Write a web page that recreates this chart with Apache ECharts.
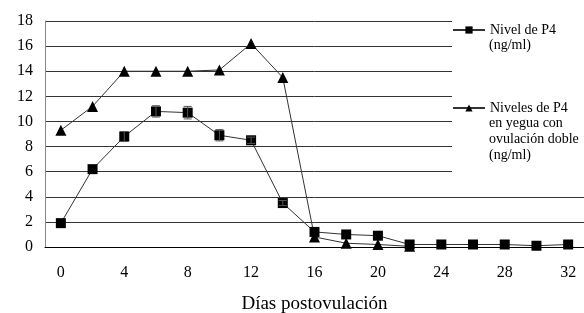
<!DOCTYPE html>
<html><head><meta charset="utf-8">
<script src="https://cdn.jsdelivr.net/npm/echarts@6/dist/echarts.min.js"></script>
<style>html,body{margin:0;padding:0;background:#fff}#c{width:584px;height:313px}</style>
</head><body><div id="c"></div><script>
const days = ['0','2','4','6','8','10','12','14','16','18','20','22','24','26','28','30','32'];
const p4 = [1.9, 6.2, 8.8, 10.8, 10.7, 8.9, 8.5, 3.5, 1.2, 1.0, 0.9, 0.2, 0.2, 0.2, 0.2, 0.1, 0.2];
const p4Err = [0, 0, 0.4, 0.45, 0.5, 0.45, 0.25, 0.2, 0, 0, 0, 0, 0, 0, 0, 0, 0];
const p4Double = [9.3, 11.2, 14.0, 14.0, 14.0, 14.1, 16.2, 13.5, 0.8, 0.3, 0.2, 0.05];
const name1 = 'Nivel de P4';
const name1Extra = ['(ng/ml)'];
const name2 = 'Niveles de P4';
const name2Extra = ['en yegua con', 'ovulación doble', '(ng/ml)'];
const xTitle = 'Días postovulación';

const FONT = 'Liberation Serif';
const errData = p4.map((v, i) => [i, v - p4Err[i], v + p4Err[i]]).filter((d, i) => p4Err[i] > 0);

const chart = echarts.init(document.getElementById('c'));
const extraTexts = [];
name1Extra.forEach((t, k) => extraTexts.push({type:'text', left: 489, top: 38 + k*16, z: 10,
  style:{text:t, font:'14px "Liberation Serif"', fill:'#000'}}));
name2Extra.forEach((t, k) => extraTexts.push({type:'text', left: 489, top: 116 + k*16, z: 10,
  style:{text:t, font:'14px "Liberation Serif"', fill:'#000'}}));

chart.setOption({
  animation: false,
  backgroundColor: '#fff',
  textStyle: {fontFamily: FONT, color: '#000'},
  grid: {left: 45, right: 0, top: 21, bottom: 66, containLabel: false, outerBoundsMode: 'none'},
  xAxis: {
    type: 'category', data: days, boundaryGap: true,
    axisLine: {show: true, lineStyle: {color: '#000', width: 1}},
    axisTick: {show: false},
    axisLabel: {interval: 1, margin: 18, fontSize: 16, color: '#000', fontFamily: FONT},
    name: xTitle, nameLocation: 'middle', nameGap: 48,
    nameTextStyle: {fontSize: 19, color: '#000', fontFamily: FONT}
  },
  yAxis: {
    type: 'value', min: 0, max: 18, interval: 2,
    axisLine: {show: true, lineStyle: {color: '#888', width: 1}},
    axisTick: {show: false},
    axisLabel: {margin: 12, fontSize: 16, color: '#000', fontFamily: FONT},
    splitLine: {show: true, lineStyle: {color: '#333', width: 1}}
  },
  legend: [
    {data: [name1], left: 452, top: 21, itemWidth: 32, itemHeight: 9, itemGap: 4,
     textStyle: {fontSize: 14, fontFamily: FONT, color: '#000'}, padding: [2, 40, 2, 0]},
    {data: [name2], left: 452, top: 99, itemWidth: 32, itemHeight: 9, itemGap: 4,
     textStyle: {fontSize: 14, fontFamily: FONT, color: '#000'}, padding: [2, 40, 2, 0]}
  ],
  graphic: [
    {type: 'rect', left: 452, top: 12, z: 3, shape: {width: 132, height: 172}, style: {fill: '#fff'}},
    ...extraTexts
  ],
  series: [
    {name: name2, type: 'line', data: p4Double, symbol: 'triangle', symbolSize: 11,
     lineStyle: {color: '#333', width: 1}, itemStyle: {color: '#000'}, z: 2},
    {name: name1, type: 'line', data: p4, symbol: 'rect', symbolSize: 10,
     lineStyle: {color: '#333', width: 1}, itemStyle: {color: '#000'}, z: 3},
    {type: 'custom', data: errData, z: 4,
     renderItem: function (params, api) {
       const lo = api.coord([api.value(0), api.value(1)]);
       const hi = api.coord([api.value(0), api.value(2)]);
       const w = 4;
       const st = {stroke: '#555', lineWidth: 1};
       return {type: 'group', children: [
         {type: 'line', shape: {x1: lo[0], y1: lo[1], x2: hi[0], y2: hi[1]}, style: st},
         {type: 'line', shape: {x1: lo[0]-w, y1: lo[1], x2: lo[0]+w, y2: lo[1]}, style: st},
         {type: 'line', shape: {x1: hi[0]-w, y1: hi[1], x2: hi[0]+w, y2: hi[1]}, style: st}
       ]};
     }}
  ]
});
</script></body></html>
